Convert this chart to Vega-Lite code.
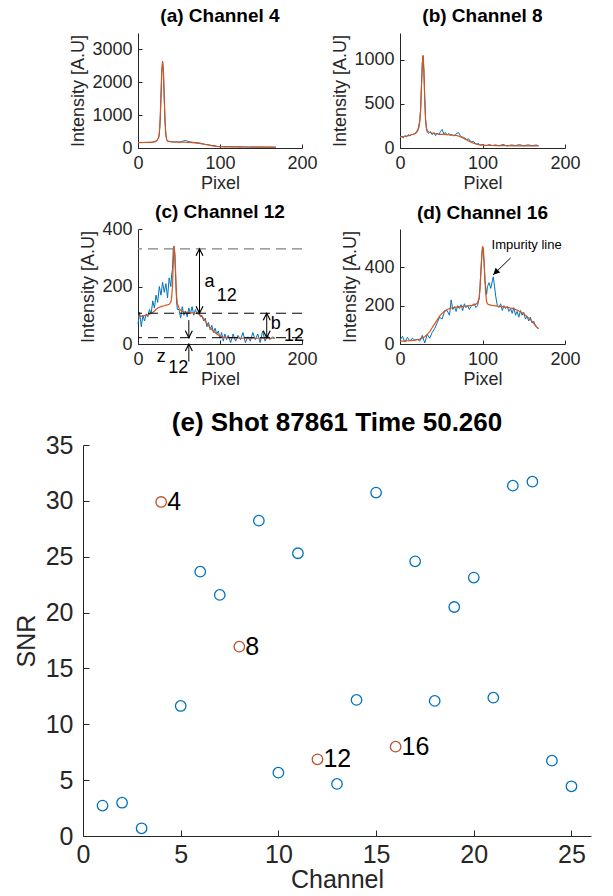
{
  "$schema": "https://vega.github.io/schema/vega-lite/v6.json",
  "padding": {"left": 14, "top": 7, "right": 2, "bottom": 2},
  "background": "white",
  "config": {
    "font": "Liberation Sans",
    "numberFormat": "d",
    "view": {"stroke": null},
    "axis": {
      "grid": false,
      "domainColor": "#262626",
      "tickColor": "#262626",
      "labelColor": "#262626",
      "titleColor": "#262626",
      "labelFont": "Liberation Sans",
      "titleFont": "Liberation Sans",
      "titleFontWeight": "normal",
      "labelFontSize": 18,
      "titleFontSize": 18,
      "tickSize": -4,
      "labelPadding": 10,
      "labelOverlap": false,
      "labelFlush": false
    },
    "axisX": {"titlePadding": 2},
    "axisY": {"titlePadding": 4},
    "title": {"font": "Liberation Sans", "fontSize": 19, "fontWeight": "bold", "color": "#000000", "frame": "group", "anchor": "middle", "offset": 7}
  },
  "datasets": {
    "ch4": [
      {"pixel": 0, "raw": 160, "fit": 165}, {"pixel": 3, "raw": 170, "fit": 166}, {"pixel": 6, "raw": 165, "fit": 167},
      {"pixel": 9, "raw": 175, "fit": 168}, {"pixel": 12, "raw": 168, "fit": 170}, {"pixel": 15, "raw": 172, "fit": 173},
      {"pixel": 18, "raw": 180, "fit": 180}, {"pixel": 21, "raw": 200, "fit": 195}, {"pixel": 23, "raw": 230, "fit": 225},
      {"pixel": 25, "raw": 300, "fit": 300}, {"pixel": 26, "raw": 420, "fit": 450}, {"pixel": 27, "raw": 800, "fit": 850},
      {"pixel": 28, "raw": 1500, "fit": 1600}, {"pixel": 29, "raw": 2300, "fit": 2350}, {"pixel": 30, "raw": 2600, "fit": 2650},
      {"pixel": 31, "raw": 2300, "fit": 2350}, {"pixel": 32, "raw": 1500, "fit": 1550}, {"pixel": 33, "raw": 800, "fit": 800},
      {"pixel": 34, "raw": 400, "fit": 400}, {"pixel": 35, "raw": 260, "fit": 260}, {"pixel": 36, "raw": 210, "fit": 215},
      {"pixel": 38, "raw": 195, "fit": 200}, {"pixel": 41, "raw": 185, "fit": 190}, {"pixel": 44, "raw": 180, "fit": 185},
      {"pixel": 47, "raw": 190, "fit": 182}, {"pixel": 50, "raw": 175, "fit": 180}, {"pixel": 53, "raw": 195, "fit": 178},
      {"pixel": 56, "raw": 220, "fit": 176}, {"pixel": 58, "raw": 230, "fit": 175}, {"pixel": 60, "raw": 210, "fit": 172},
      {"pixel": 63, "raw": 190, "fit": 170}, {"pixel": 66, "raw": 175, "fit": 165}, {"pixel": 69, "raw": 170, "fit": 158},
      {"pixel": 72, "raw": 160, "fit": 150}, {"pixel": 75, "raw": 150, "fit": 140}, {"pixel": 78, "raw": 135, "fit": 128},
      {"pixel": 81, "raw": 115, "fit": 115}, {"pixel": 84, "raw": 105, "fit": 100}, {"pixel": 87, "raw": 90, "fit": 85},
      {"pixel": 90, "raw": 70, "fit": 70}, {"pixel": 93, "raw": 80, "fit": 58}, {"pixel": 96, "raw": 50, "fit": 48},
      {"pixel": 99, "raw": 45, "fit": 42}, {"pixel": 102, "raw": 40, "fit": 38}, {"pixel": 106, "raw": 38, "fit": 36},
      {"pixel": 110, "raw": 42, "fit": 35}, {"pixel": 115, "raw": 35, "fit": 34}, {"pixel": 120, "raw": 38, "fit": 33},
      {"pixel": 125, "raw": 30, "fit": 32}, {"pixel": 130, "raw": 35, "fit": 31}, {"pixel": 135, "raw": 28, "fit": 30},
      {"pixel": 140, "raw": 33, "fit": 29}, {"pixel": 145, "raw": 27, "fit": 28}, {"pixel": 150, "raw": 31, "fit": 27},
      {"pixel": 155, "raw": 25, "fit": 26}, {"pixel": 160, "raw": 30, "fit": 25}, {"pixel": 165, "raw": 24, "fit": 24},
      {"pixel": 168, "raw": 26, "fit": 24}
    ],
    "ch8": [
      {"pixel": 0, "raw": 110, "fit": 125}, {"pixel": 2, "raw": 130, "fit": 128}, {"pixel": 4, "raw": 115, "fit": 130},
      {"pixel": 6, "raw": 140, "fit": 133}, {"pixel": 8, "raw": 125, "fit": 136}, {"pixel": 10, "raw": 150, "fit": 140},
      {"pixel": 12, "raw": 135, "fit": 145}, {"pixel": 14, "raw": 155, "fit": 150}, {"pixel": 16, "raw": 150, "fit": 155},
      {"pixel": 18, "raw": 165, "fit": 162}, {"pixel": 20, "raw": 180, "fit": 175}, {"pixel": 22, "raw": 220, "fit": 205},
      {"pixel": 23, "raw": 260, "fit": 240}, {"pixel": 24, "raw": 320, "fit": 300}, {"pixel": 25, "raw": 450, "fit": 420},
      {"pixel": 26, "raw": 700, "fit": 680}, {"pixel": 27, "raw": 950, "fit": 950}, {"pixel": 28, "raw": 1040, "fit": 1050},
      {"pixel": 29, "raw": 850, "fit": 880}, {"pixel": 30, "raw": 550, "fit": 560}, {"pixel": 31, "raw": 320, "fit": 320},
      {"pixel": 32, "raw": 220, "fit": 230}, {"pixel": 33, "raw": 180, "fit": 195}, {"pixel": 35, "raw": 165, "fit": 180},
      {"pixel": 37, "raw": 185, "fit": 172}, {"pixel": 39, "raw": 150, "fit": 168}, {"pixel": 41, "raw": 175, "fit": 165},
      {"pixel": 43, "raw": 140, "fit": 160}, {"pixel": 45, "raw": 170, "fit": 158}, {"pixel": 47, "raw": 150, "fit": 156},
      {"pixel": 49, "raw": 185, "fit": 155}, {"pixel": 51, "raw": 210, "fit": 155}, {"pixel": 53, "raw": 160, "fit": 154},
      {"pixel": 55, "raw": 175, "fit": 153}, {"pixel": 57, "raw": 145, "fit": 152}, {"pixel": 59, "raw": 165, "fit": 150},
      {"pixel": 61, "raw": 140, "fit": 148}, {"pixel": 63, "raw": 155, "fit": 146}, {"pixel": 65, "raw": 135, "fit": 144},
      {"pixel": 67, "raw": 150, "fit": 142}, {"pixel": 69, "raw": 165, "fit": 140}, {"pixel": 71, "raw": 175, "fit": 136},
      {"pixel": 73, "raw": 140, "fit": 128}, {"pixel": 75, "raw": 125, "fit": 120}, {"pixel": 77, "raw": 120, "fit": 110},
      {"pixel": 79, "raw": 110, "fit": 100}, {"pixel": 81, "raw": 95, "fit": 90}, {"pixel": 83, "raw": 105, "fit": 80},
      {"pixel": 85, "raw": 80, "fit": 72}, {"pixel": 87, "raw": 70, "fit": 62}, {"pixel": 89, "raw": 75, "fit": 55},
      {"pixel": 91, "raw": 55, "fit": 48}, {"pixel": 93, "raw": 45, "fit": 42}, {"pixel": 95, "raw": 50, "fit": 38},
      {"pixel": 97, "raw": 35, "fit": 35}, {"pixel": 100, "raw": 40, "fit": 32}, {"pixel": 104, "raw": 25, "fit": 30},
      {"pixel": 108, "raw": 38, "fit": 29}, {"pixel": 112, "raw": 28, "fit": 28}, {"pixel": 116, "raw": 35, "fit": 27},
      {"pixel": 120, "raw": 25, "fit": 27}, {"pixel": 125, "raw": 40, "fit": 26}, {"pixel": 130, "raw": 22, "fit": 26},
      {"pixel": 135, "raw": 35, "fit": 25}, {"pixel": 140, "raw": 28, "fit": 25}, {"pixel": 145, "raw": 38, "fit": 25},
      {"pixel": 150, "raw": 24, "fit": 24}, {"pixel": 155, "raw": 36, "fit": 24}, {"pixel": 160, "raw": 26, "fit": 23},
      {"pixel": 165, "raw": 34, "fit": 23}, {"pixel": 168, "raw": 25, "fit": 23}
    ],
    "ch12": [
      {"pixel": 0, "raw": 70, "fit": 95}, {"pixel": 2, "raw": 110, "fit": 96}, {"pixel": 4, "raw": 60, "fit": 97},
      {"pixel": 6, "raw": 100, "fit": 98}, {"pixel": 8, "raw": 80, "fit": 99}, {"pixel": 10, "raw": 105, "fit": 100},
      {"pixel": 12, "raw": 95, "fit": 102}, {"pixel": 14, "raw": 120, "fit": 104}, {"pixel": 16, "raw": 105, "fit": 107},
      {"pixel": 18, "raw": 150, "fit": 110}, {"pixel": 20, "raw": 125, "fit": 115}, {"pixel": 22, "raw": 170, "fit": 120},
      {"pixel": 24, "raw": 145, "fit": 125}, {"pixel": 26, "raw": 200, "fit": 128}, {"pixel": 28, "raw": 170, "fit": 130},
      {"pixel": 30, "raw": 215, "fit": 132}, {"pixel": 32, "raw": 180, "fit": 133}, {"pixel": 34, "raw": 210, "fit": 135},
      {"pixel": 36, "raw": 160, "fit": 136}, {"pixel": 38, "raw": 230, "fit": 138}, {"pixel": 40, "raw": 200, "fit": 145},
      {"pixel": 41, "raw": 240, "fit": 160}, {"pixel": 42, "raw": 260, "fit": 200}, {"pixel": 43, "raw": 330, "fit": 280},
      {"pixel": 44, "raw": 340, "fit": 340}, {"pixel": 45, "raw": 300, "fit": 315}, {"pixel": 46, "raw": 220, "fit": 240},
      {"pixel": 47, "raw": 150, "fit": 170}, {"pixel": 48, "raw": 120, "fit": 140}, {"pixel": 50, "raw": 120, "fit": 125},
      {"pixel": 52, "raw": 90, "fit": 118}, {"pixel": 54, "raw": 130, "fit": 114}, {"pixel": 56, "raw": 100, "fit": 112},
      {"pixel": 58, "raw": 115, "fit": 110}, {"pixel": 60, "raw": 95, "fit": 110}, {"pixel": 62, "raw": 125, "fit": 109},
      {"pixel": 64, "raw": 105, "fit": 108}, {"pixel": 66, "raw": 130, "fit": 108}, {"pixel": 68, "raw": 100, "fit": 108},
      {"pixel": 70, "raw": 120, "fit": 107}, {"pixel": 72, "raw": 105, "fit": 106}, {"pixel": 74, "raw": 115, "fit": 104},
      {"pixel": 76, "raw": 95, "fit": 100}, {"pixel": 78, "raw": 100, "fit": 95}, {"pixel": 80, "raw": 80, "fit": 88},
      {"pixel": 82, "raw": 90, "fit": 80}, {"pixel": 84, "raw": 60, "fit": 72}, {"pixel": 86, "raw": 75, "fit": 64},
      {"pixel": 88, "raw": 50, "fit": 57}, {"pixel": 90, "raw": 65, "fit": 50}, {"pixel": 92, "raw": 40, "fit": 45},
      {"pixel": 94, "raw": 55, "fit": 40}, {"pixel": 96, "raw": 35, "fit": 35}, {"pixel": 98, "raw": 45, "fit": 31},
      {"pixel": 100, "raw": 20, "fit": 28}, {"pixel": 102, "raw": 40, "fit": 26}, {"pixel": 104, "raw": 10, "fit": 24},
      {"pixel": 106, "raw": 35, "fit": 23}, {"pixel": 108, "raw": 15, "fit": 22}, {"pixel": 110, "raw": 30, "fit": 22},
      {"pixel": 113, "raw": 5, "fit": 21}, {"pixel": 116, "raw": 35, "fit": 21}, {"pixel": 119, "raw": 10, "fit": 21},
      {"pixel": 122, "raw": 30, "fit": 21}, {"pixel": 125, "raw": 15, "fit": 20}, {"pixel": 128, "raw": 40, "fit": 20},
      {"pixel": 131, "raw": 5, "fit": 20}, {"pixel": 134, "raw": 25, "fit": 20}, {"pixel": 137, "raw": 10, "fit": 20},
      {"pixel": 140, "raw": 40, "fit": 20}, {"pixel": 143, "raw": 15, "fit": 20}, {"pixel": 146, "raw": 35, "fit": 20},
      {"pixel": 149, "raw": 5, "fit": 20}, {"pixel": 152, "raw": 45, "fit": 20}, {"pixel": 155, "raw": 10, "fit": 20},
      {"pixel": 158, "raw": 30, "fit": 20}, {"pixel": 161, "raw": 15, "fit": 20}, {"pixel": 164, "raw": 25, "fit": 20},
      {"pixel": 167, "raw": 20, "fit": 20}
    ],
    "ch16": [
      {"pixel": 0, "raw": 20, "fit": 15}, {"pixel": 3, "raw": 40, "fit": 15}, {"pixel": 6, "raw": 10, "fit": 16},
      {"pixel": 9, "raw": 35, "fit": 17}, {"pixel": 12, "raw": 15, "fit": 18}, {"pixel": 15, "raw": 30, "fit": 19},
      {"pixel": 18, "raw": 20, "fit": 20}, {"pixel": 21, "raw": 25, "fit": 22}, {"pixel": 24, "raw": 15, "fit": 25},
      {"pixel": 27, "raw": 45, "fit": 30}, {"pixel": 30, "raw": 5, "fit": 38}, {"pixel": 33, "raw": 50, "fit": 50},
      {"pixel": 36, "raw": 30, "fit": 65}, {"pixel": 39, "raw": 60, "fit": 85}, {"pixel": 42, "raw": 80, "fit": 105},
      {"pixel": 45, "raw": 110, "fit": 125}, {"pixel": 48, "raw": 140, "fit": 145}, {"pixel": 51, "raw": 130, "fit": 160},
      {"pixel": 54, "raw": 170, "fit": 172}, {"pixel": 57, "raw": 175, "fit": 180}, {"pixel": 60, "raw": 150, "fit": 185},
      {"pixel": 62, "raw": 230, "fit": 188}, {"pixel": 64, "raw": 180, "fit": 190}, {"pixel": 66, "raw": 195, "fit": 191},
      {"pixel": 68, "raw": 170, "fit": 192}, {"pixel": 70, "raw": 200, "fit": 193}, {"pixel": 72, "raw": 185, "fit": 194},
      {"pixel": 74, "raw": 205, "fit": 195}, {"pixel": 76, "raw": 175, "fit": 196}, {"pixel": 78, "raw": 210, "fit": 197},
      {"pixel": 80, "raw": 190, "fit": 198}, {"pixel": 82, "raw": 200, "fit": 199}, {"pixel": 84, "raw": 180, "fit": 200},
      {"pixel": 86, "raw": 195, "fit": 201}, {"pixel": 88, "raw": 205, "fit": 202}, {"pixel": 90, "raw": 210, "fit": 204},
      {"pixel": 92, "raw": 190, "fit": 208}, {"pixel": 94, "raw": 200, "fit": 215}, {"pixel": 96, "raw": 240, "fit": 240},
      {"pixel": 97, "raw": 300, "fit": 290}, {"pixel": 98, "raw": 380, "fit": 370}, {"pixel": 99, "raw": 450, "fit": 450},
      {"pixel": 100, "raw": 500, "fit": 510}, {"pixel": 101, "raw": 480, "fit": 500}, {"pixel": 102, "raw": 420, "fit": 420},
      {"pixel": 103, "raw": 330, "fit": 330}, {"pixel": 104, "raw": 290, "fit": 260}, {"pixel": 105, "raw": 260, "fit": 220},
      {"pixel": 106, "raw": 300, "fit": 210}, {"pixel": 108, "raw": 320, "fit": 205}, {"pixel": 110, "raw": 290, "fit": 203},
      {"pixel": 112, "raw": 330, "fit": 202}, {"pixel": 113, "raw": 350, "fit": 201}, {"pixel": 114, "raw": 320, "fit": 200},
      {"pixel": 116, "raw": 250, "fit": 199}, {"pixel": 118, "raw": 200, "fit": 198}, {"pixel": 120, "raw": 190, "fit": 197},
      {"pixel": 122, "raw": 210, "fit": 196}, {"pixel": 124, "raw": 175, "fit": 195}, {"pixel": 126, "raw": 200, "fit": 194},
      {"pixel": 128, "raw": 185, "fit": 193}, {"pixel": 130, "raw": 195, "fit": 192}, {"pixel": 132, "raw": 170, "fit": 190},
      {"pixel": 134, "raw": 185, "fit": 188}, {"pixel": 136, "raw": 160, "fit": 186}, {"pixel": 138, "raw": 190, "fit": 183},
      {"pixel": 140, "raw": 150, "fit": 180}, {"pixel": 142, "raw": 170, "fit": 177}, {"pixel": 144, "raw": 140, "fit": 172},
      {"pixel": 146, "raw": 175, "fit": 168}, {"pixel": 148, "raw": 150, "fit": 163}, {"pixel": 150, "raw": 165, "fit": 157},
      {"pixel": 152, "raw": 130, "fit": 150}, {"pixel": 154, "raw": 145, "fit": 143}, {"pixel": 156, "raw": 120, "fit": 135},
      {"pixel": 158, "raw": 140, "fit": 127}, {"pixel": 160, "raw": 110, "fit": 118}, {"pixel": 162, "raw": 120, "fit": 108},
      {"pixel": 164, "raw": 95, "fit": 98}, {"pixel": 166, "raw": 85, "fit": 88}, {"pixel": 168, "raw": 80, "fit": 80}
    ],
    "levels12": [
      {"level": 331, "kind": "peak"}, {"level": 107, "kind": "base"}, {"level": 22, "kind": "floor"}
    ],
    "arrows12": [
      {"x": 75, "y": 107, "y2": 331}, {"x": 157, "y": 22, "y2": 107}, {"x": 62, "y": 22, "y2": 83}, {"x": 62, "y": -61, "y2": 0}
    ],
    "heads12": [
      {"x": 75, "y": 331, "dir": "up"}, {"x": 75, "y": 107, "dir": "down"},
      {"x": 157, "y": 107, "dir": "up"}, {"x": 157, "y": 22, "dir": "down"},
      {"x": 62, "y": 22, "dir": "down"}, {"x": 62, "y": 0, "dir": "up"}
    ],
    "labels12": [
      {"x": 81, "y": 214, "label": "a"}, {"x": 96, "y": 168, "label": "12"},
      {"x": 162, "y": 68, "label": "b"}, {"x": 178, "y": 29, "label": "12"},
      {"x": 23, "y": -45, "label": "z"}, {"x": 37, "y": -82, "label": "12"}
    ],
    "impurity": [
      {"x": 134, "y": 449, "x2": 113, "y2": 361, "label": "Impurity line", "tx": 111, "ty": 514}
    ],
    "snr": [
      {"channel": 1, "snr": 2.72, "shown": "no"}, {"channel": 2, "snr": 2.98, "shown": "no"},
      {"channel": 3, "snr": 0.69, "shown": "no"}, {"channel": 4, "snr": 29.9, "shown": "yes"},
      {"channel": 5, "snr": 11.64, "shown": "no"}, {"channel": 6, "snr": 23.66, "shown": "no"},
      {"channel": 7, "snr": 21.58, "shown": "no"}, {"channel": 8, "snr": 16.95, "shown": "yes"},
      {"channel": 9, "snr": 28.23, "shown": "no"}, {"channel": 10, "snr": 5.67, "shown": "no"},
      {"channel": 11, "snr": 25.31, "shown": "no"}, {"channel": 12, "snr": 6.86, "shown": "yes"},
      {"channel": 13, "snr": 4.66, "shown": "no"}, {"channel": 14, "snr": 12.18, "shown": "no"},
      {"channel": 15, "snr": 30.74, "shown": "no"}, {"channel": 16, "snr": 8.0, "shown": "yes"},
      {"channel": 17, "snr": 24.59, "shown": "no"}, {"channel": 18, "snr": 12.09, "shown": "no"},
      {"channel": 19, "snr": 20.5, "shown": "no"}, {"channel": 20, "snr": 23.13, "shown": "no"},
      {"channel": 21, "snr": 12.38, "shown": "no"}, {"channel": 22, "snr": 31.36, "shown": "no"},
      {"channel": 23, "snr": 31.72, "shown": "no"}, {"channel": 24, "snr": 6.74, "shown": "no"},
      {"channel": 25, "snr": 4.45, "shown": "no"}
    ]
  },
  "spacing": 22,
  "vconcat": [
    {
      "spacing": 11,
      "vconcat": [
        {
          "bounds": "flush",
          "spacing": 0,
          "hconcat": [
            {"width": 55, "height": 115, "data": {"values": [{"k": 1}]}, "mark": {"type": "point", "opacity": 0}, "encoding": {}},
            {
              "width": 164, "height": 115,
              "title": {"text": "(a) Channel 4"},
              "data": {"name": "ch4"},
              "layer": [
                {"mark": {"type": "line", "color": "#0072BD", "strokeWidth": 1},
                 "encoding": {
                   "x": {"field": "pixel", "type": "quantitative", "scale": {"domain": [0, 200]}, "axis": {"values": [0, 100, 200], "title": "Pixel"}},
                   "y": {"field": "raw", "type": "quantitative", "scale": {"domain": [0, 3050]}, "axis": {"values": [0, 1000, 2000, 3000], "title": "Intensity [A.U]"}}}},
                {"mark": {"type": "line", "color": "#D95319", "strokeWidth": 1.2},
                 "encoding": {
                   "x": {"field": "pixel", "type": "quantitative", "axis": {"values": [0, 100, 200], "title": "Pixel"}},
                   "y": {"field": "fit", "type": "quantitative", "axis": {"values": [0, 1000, 2000, 3000], "title": "Intensity [A.U]"}}}}
              ]
            },
            {"width": 98, "height": 115, "data": {"values": [{"k": 1}]}, "mark": {"type": "point", "opacity": 0}, "encoding": {}},
            {
              "width": 165, "height": 115,
              "title": {"text": "(b) Channel 8"},
              "data": {"name": "ch8"},
              "layer": [
                {"mark": {"type": "line", "color": "#0072BD", "strokeWidth": 1},
                 "encoding": {
                   "x": {"field": "pixel", "type": "quantitative", "scale": {"domain": [0, 200]}, "axis": {"values": [0, 100, 200], "title": "Pixel"}},
                   "y": {"field": "raw", "type": "quantitative", "scale": {"domain": [0, 1230]}, "axis": {"values": [0, 500, 1000], "title": "Intensity [A.U]"}}}},
                {"mark": {"type": "line", "color": "#D95319", "strokeWidth": 1.2},
                 "encoding": {
                   "x": {"field": "pixel", "type": "quantitative", "axis": {"values": [0, 100, 200], "title": "Pixel"}},
                   "y": {"field": "fit", "type": "quantitative", "axis": {"values": [0, 500, 1000], "title": "Intensity [A.U]"}}}}
              ]
            }
          ]
        },
        {
          "bounds": "flush",
          "spacing": 0,
          "hconcat": [
            {"width": 55, "height": 115, "data": {"values": [{"k": 1}]}, "mark": {"type": "point", "opacity": 0}, "encoding": {}},
            {
              "width": 164, "height": 115,
              "title": {"text": "(c) Channel 12", "offset": -2},
              "layer": [
                {"data": {"name": "ch12"}, "mark": {"type": "line", "color": "#0072BD", "strokeWidth": 1},
                 "encoding": {
                   "x": {"field": "pixel", "type": "quantitative", "scale": {"domain": [0, 200]}, "axis": {"values": [0, 100, 200], "title": "Pixel"}},
                   "y": {"field": "raw", "type": "quantitative", "scale": {"domain": [0, 400]}, "axis": {"values": [0, 200, 400], "title": "Intensity [A.U]"}}}},
                {"data": {"name": "ch12"}, "mark": {"type": "line", "color": "#D95319", "strokeWidth": 1.2},
                 "encoding": {
                   "x": {"field": "pixel", "type": "quantitative", "axis": {"values": [0, 100, 200], "title": "Pixel"}},
                   "y": {"field": "fit", "type": "quantitative", "axis": {"values": [0, 200, 400], "title": "Intensity [A.U]"}}}},
                {"data": {"name": "levels12"}, "transform": [{"filter": "datum.kind == 'peak'"}],
                 "mark": {"type": "rule", "color": "#808080", "strokeDash": [10, 6], "strokeWidth": 1.2},
                 "encoding": {"y": {"field": "level", "type": "quantitative"}}},
                {"data": {"name": "levels12"}, "transform": [{"filter": "datum.kind != 'peak'"}],
                 "mark": {"type": "rule", "color": "#000000", "strokeDash": [10, 6], "strokeWidth": 1},
                 "encoding": {"y": {"field": "level", "type": "quantitative"}}},
                {"data": {"name": "arrows12"},
                 "mark": {"type": "rule", "color": "#000000", "strokeWidth": 1},
                 "encoding": {"x": {"field": "x", "type": "quantitative"}, "y": {"field": "y", "type": "quantitative"}, "y2": {"field": "y2"}}},
                {"data": {"name": "heads12"},
                 "mark": {"type": "point", "filled": false, "color": "#000000", "strokeWidth": 1.2, "size": 100, "opacity": 1},
                 "encoding": {
                   "x": {"field": "x", "type": "quantitative"},
                   "y": {"field": "y", "type": "quantitative"},
                   "shape": {"field": "dir", "type": "nominal", "scale": {"domain": ["up", "down"], "range": ["M-0.7,1.4L0,0L0.7,1.4", "M-0.7,-1.4L0,0L0.7,-1.4"]}, "legend": null}}},
                {"data": {"name": "labels12"},
                 "mark": {"type": "text", "align": "left", "baseline": "middle", "fontSize": 18, "color": "#000000", "font": "Liberation Sans"},
                 "encoding": {"x": {"field": "x", "type": "quantitative"}, "y": {"field": "y", "type": "quantitative"}, "text": {"field": "label"}}}
              ]
            },
            {"width": 98, "height": 115, "data": {"values": [{"k": 1}]}, "mark": {"type": "point", "opacity": 0}, "encoding": {}},
            {
              "width": 165, "height": 115,
              "title": {"text": "(d) Channel 16", "offset": 6},
              "layer": [
                {"data": {"name": "ch16"}, "mark": {"type": "line", "color": "#0072BD", "strokeWidth": 1},
                 "encoding": {
                   "x": {"field": "pixel", "type": "quantitative", "scale": {"domain": [0, 200]}, "axis": {"values": [0, 100, 200], "title": "Pixel"}},
                   "y": {"field": "raw", "type": "quantitative", "scale": {"domain": [0, 590]}, "axis": {"values": [0, 200, 400], "title": "Intensity [A.U]"}}}},
                {"data": {"name": "ch16"}, "mark": {"type": "line", "color": "#D95319", "strokeWidth": 1.2},
                 "encoding": {
                   "x": {"field": "pixel", "type": "quantitative", "axis": {"values": [0, 100, 200], "title": "Pixel"}},
                   "y": {"field": "fit", "type": "quantitative", "axis": {"values": [0, 200, 400], "title": "Intensity [A.U]"}}}},
                {"data": {"name": "impurity"},
                 "mark": {"type": "rule", "color": "#000000", "strokeWidth": 1},
                 "encoding": {"x": {"field": "x", "type": "quantitative"}, "y": {"field": "y", "type": "quantitative"}, "x2": {"field": "x2"}, "y2": {"field": "y2"}}},
                {"data": {"name": "impurity"},
                 "mark": {"type": "point", "shape": "M-0.7,-1.4L0,0L0.7,-1.4Z", "filled": true, "color": "#000000", "size": 90, "angle": 45, "opacity": 1},
                 "encoding": {"x": {"field": "x2", "type": "quantitative"}, "y": {"field": "y2", "type": "quantitative"}}},
                {"data": {"name": "impurity"},
                 "mark": {"type": "text", "align": "left", "baseline": "middle", "fontSize": 13, "color": "#000000", "font": "Liberation Sans"},
                 "encoding": {"x": {"field": "tx", "type": "quantitative"}, "y": {"field": "ty", "type": "quantitative"}, "text": {"field": "label"}}}
              ]
            }
          ]
        }
      ]
    },
    {
      "width": 508, "height": 391,
      "title": {"text": "(e) Shot 87861 Time 50.260", "fontSize": 26, "offset": -3},
      "data": {"name": "snr"},
      "layer": [
        {"mark": {"type": "point", "shape": "circle", "filled": false, "size": 110, "strokeWidth": 1.3, "opacity": 1},
         "encoding": {
           "x": {"field": "channel", "type": "quantitative", "scale": {"domain": [0, 25]},
                 "axis": {"values": [0, 5, 10, 15, 20, 25], "title": "Channel", "labelFontSize": 25, "titleFontSize": 25, "tickSize": -6, "labelPadding": 12, "titlePadding": 0}},
           "y": {"field": "snr", "type": "quantitative", "scale": {"domain": [0, 35]},
                 "axis": {"values": [0, 5, 10, 15, 20, 25, 30, 35], "title": "SNR", "labelFontSize": 25, "titleFontSize": 25, "tickSize": -6, "labelPadding": 16, "titlePadding": 6}},
           "color": {"field": "shown", "type": "nominal", "scale": {"domain": ["no", "yes"], "range": ["#0072BD", "#C0502A"]}, "legend": null}}},
        {"transform": [{"filter": "datum.shown == 'yes'"}],
         "mark": {"type": "text", "align": "left", "baseline": "middle", "dx": 6, "fontSize": 25, "color": "#000000", "font": "Liberation Sans"},
         "encoding": {
           "x": {"field": "channel", "type": "quantitative"},
           "y": {"field": "snr", "type": "quantitative"},
           "text": {"field": "channel", "type": "quantitative"}}}
      ]
    }
  ]
}
